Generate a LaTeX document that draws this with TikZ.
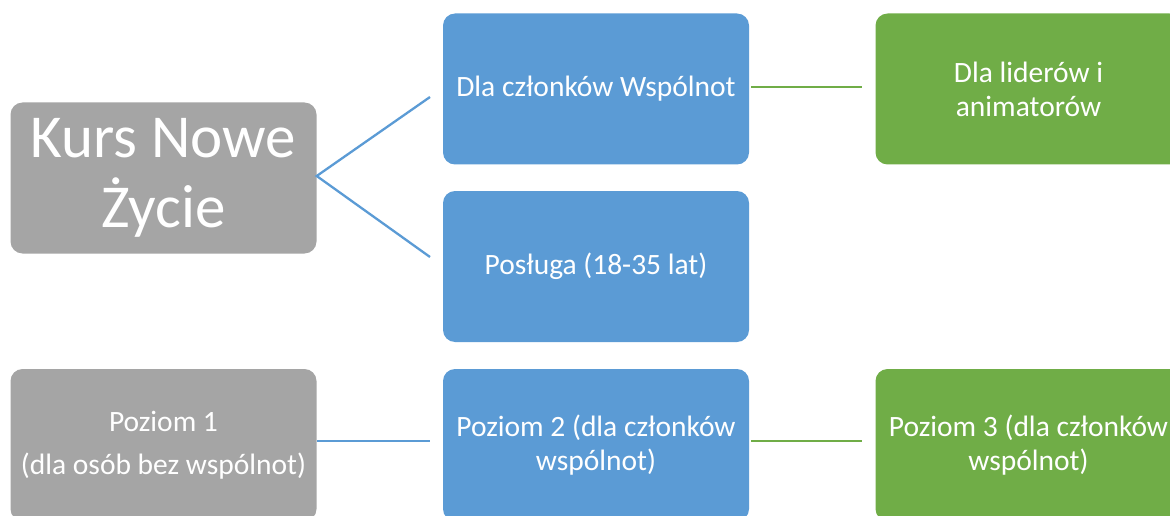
\documentclass[tikz,border=0pt]{standalone}
\usepackage{fontspec}
\setmainfont{Carlito}
\definecolor{boxgray}{HTML}{A5A5A5}
\definecolor{boxblue}{HTML}{5B9BD5}
\definecolor{boxgreen}{HTML}{70AD47}
\begin{document}
\begin{tikzpicture}[x=1pt,y=-1pt,
  card/.style={rounded corners=12pt, minimum width=306pt, minimum height=151pt, inner sep=0pt,
    text=white, align=center, font=\fontsize{29.5}{34}\selectfont},
  graycard/.style={card, fill=boxgray},
  bluecard/.style={card, fill=boxblue},
  greencard/.style={card, fill=boxgreen},
  bline/.style={draw=boxblue, line width=2.3pt},
  gline/.style={draw=boxgreen, line width=2.3pt}]
\useasboundingbox (0,0) rectangle (1170,516);
\clip (0,0) rectangle (1170,516);
% top group
\node[graycard, font=\fontsize{61}{70}\selectfont] (kurs) at (163.5,178) {Kurs Nowe\\Życie};
\node[bluecard] (b1) at (596,89) {Dla członków Wspólnot};
\node[bluecard] (b2) at (596,266.5) {Posługa (18-35 lat)};
\node[greencard] (g1) at (1028.5,89) {Dla liderów i\\animatorów};
% bottom group
\node[graycard, minimum height=152pt, align=center] (p1) at (163.5,445) {Poziom 1\\[9pt](dla osób bez wspólnot)};
\node[bluecard, minimum height=152pt] (p2) at (596,445) {Poziom 2 (dla członków\\wspólnot)};
\node[greencard, minimum height=152pt] (p3) at (1028.5,445) {Poziom 3 (dla członków\\wspólnot)};
% connectors
\coordinate (k) at (kurs.east |- 0,176);
\coordinate (t1) at (430,97);
\coordinate (t2) at (430,257);
\draw[bline] (t1) -- (k) -- (t2);
\coordinate (a1) at (751,87);
\coordinate (a2) at (862,87);
\draw[gline] (a1) -- (a2);
\coordinate (c1) at (317,441);
\coordinate (c2) at (430,441);
\draw[bline] (c1) -- (c2);
\coordinate (d1) at (751,441);
\coordinate (d2) at (862,441);
\draw[gline] (d1) -- (d2);
\end{tikzpicture}
\end{document}
